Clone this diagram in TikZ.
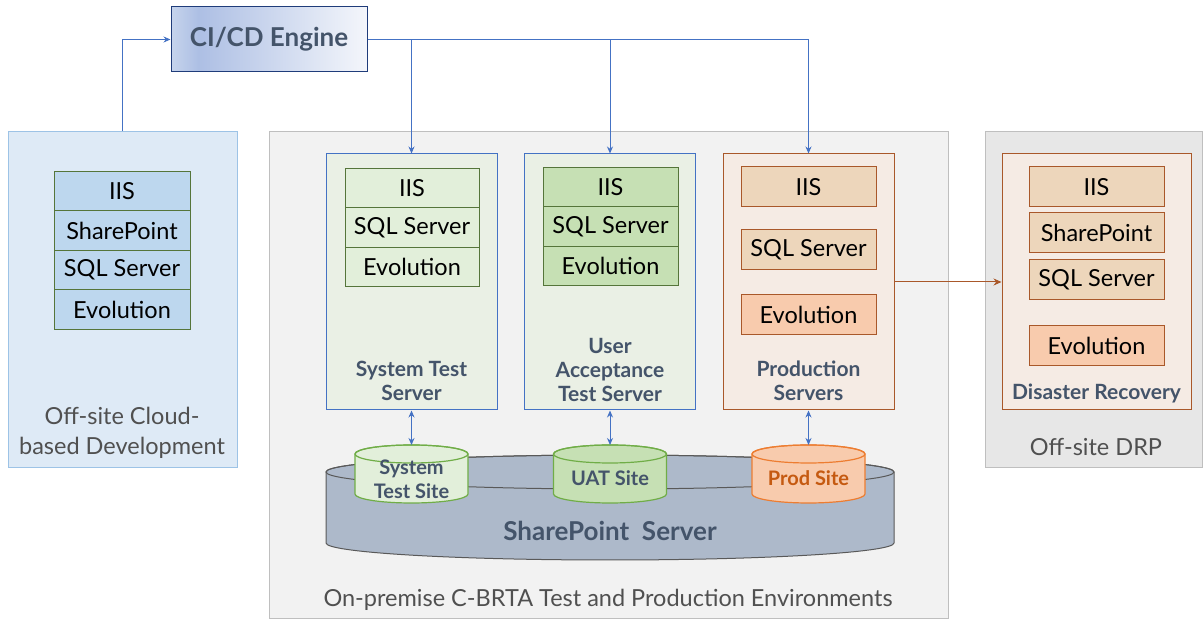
\documentclass[tikz,border=0pt]{standalone}
\usepackage{fontspec}
\setmainfont{Lato}
\usetikzlibrary{arrows.meta}

\definecolor{lineblue}{HTML}{4472C4}
\definecolor{labelblue}{HTML}{44546A}
\definecolor{labelgray}{HTML}{505050}
\definecolor{devfill}{HTML}{DEEAF6}
\definecolor{devline}{HTML}{9DC3E6}
\definecolor{devitem}{HTML}{BDD7EE}
\definecolor{stackline}{HTML}{55753A}
\definecolor{premfill}{HTML}{F2F2F2}
\definecolor{premline}{HTML}{BFBFBF}
\definecolor{drpfill}{HTML}{E7E7E7}
\definecolor{testfill}{HTML}{EAF0E5}
\definecolor{testitem}{HTML}{E2EFDA}
\definecolor{uatitem}{HTML}{C6E0B4}
\definecolor{prodfill}{HTML}{F5EBE4}
\definecolor{prodline}{HTML}{A9582A}
\definecolor{proditem}{HTML}{EDD6BB}
\definecolor{evoitem}{HTML}{F8CBAD}
\definecolor{spfill}{HTML}{ADB9CA}
\definecolor{spline}{HTML}{595959}
\definecolor{siteline}{HTML}{70AD47}
\definecolor{prodsiteline}{HTML}{ED7D31}
\definecolor{prodtext}{HTML}{C55A11}
\definecolor{cicdA}{HTML}{C6D4EC}
\definecolor{cicdB}{HTML}{ADBFE4}
\definecolor{cicdC}{HTML}{F4F6FB}
\definecolor{cicdline}{HTML}{1F3C7A}

\pgfdeclarehorizontalshading{cicdshade}{100bp}{color(0bp)=(cicdA); color(25bp)=(cicdA); color(32bp)=(cicdB); color(75bp)=(cicdC); color(100bp)=(cicdC)}

\begin{document}
\begin{tikzpicture}[x=1pt,y=1pt,
    panel/.style={line width=1pt, inner sep=0pt},
    server/.style={line width=1pt, inner sep=0pt, minimum width=171pt, minimum height=256pt},
    item/.style={draw=stackline, line width=1pt, inner sep=0pt, minimum width=136pt, minimum height=39.5pt, font=\fontsize{23.5}{26}\selectfont},
    peritem/.style={draw=prodline, line width=1pt, inner sep=0pt, minimum width=135pt, minimum height=40pt, font=\fontsize{23.5}{26}\selectfont},
    graylabel/.style={align=center, text=labelgray, font=\fontsize{23.5}{30}\selectfont},
    boldlabel/.style={align=center, text=labelblue, font=\bfseries\fontsize{21}{24}\selectfont},
    sitelabel/.style={align=center, text=labelblue, font=\bfseries\fontsize{20}{24}\selectfont},
    flow/.style={draw=lineblue, line width=1pt, -{Stealth[length=7pt,width=6pt]}},
    both/.style={draw=lineblue, line width=1pt, {Stealth[length=7pt,width=6pt]}-{Stealth[length=7pt,width=6pt]}}]

  \useasboundingbox (0,0) rectangle (1203,619);

  % outer areas
  \node[panel, fill=devfill, draw=devline, minimum width=229pt, minimum height=336pt] (dev) at (122.5,319) {};
  \node[panel, fill=premfill, draw=premline, minimum width=679pt, minimum height=486pt] (prem) at (608.5,244) {};
  \node[panel, fill=drpfill, draw=premline, minimum width=217pt, minimum height=336pt] (drp) at (1093.5,319) {};

  \node[graylabel] (devlabel) at (122,186) {Off-site Cloud-\\based Development};
  \node[graylabel] (premlabel) at (608,19) {On-premise C-BRTA Test and Production Environments};
  \node[graylabel] (drplabel) at (1096,172) {Off-site DRP};

  % CI/CD
  \node[panel, draw=cicdline, shading=cicdshade, minimum width=196pt, minimum height=65pt,
        text=labelblue, font=\bfseries\fontsize{26}{28}\selectfont] (cicd) at (269,579.5) {CI/CD Engine};

  % development stack
  \node[item, fill=devitem] (deviis) at (122,428) {IIS};
  \node[item, fill=devitem] (devsp) at (122,388.5) {SharePoint};
  \node[item, fill=devitem] (devsql) at (122,349) {SQL Server};
  \node[item, fill=devitem] (devevo) at (122,309.5) {Evolution};

  % servers
  \node[server, draw=lineblue, fill=testfill] (sts) at (411.5,337) {};
  \node[server, draw=lineblue, fill=testfill] (uat) at (610,337) {};
  \node[server, draw=prodline, fill=prodfill] (prod) at (808.5,337) {};
  \node[server, draw=prodline, fill=prodfill, minimum width=189pt] (drpin) at (1096.5,337) {};

  \node[item, fill=testitem, minimum width=134pt] (stsiis) at (412,431) {IIS};
  \node[item, fill=testitem, minimum width=134pt] (stssql) at (412,391.5) {SQL Server};
  \node[item, fill=testitem, minimum width=134pt] (stsevo) at (412,352) {Evolution};
  \node[boldlabel] (stslabel) at (411.5,238) {System Test\\Server};

  \node[item, fill=uatitem, minimum width=135pt] (uatiis) at (610.5,432) {IIS};
  \node[item, fill=uatitem, minimum width=135pt] (uatsql) at (610.5,392.5) {SQL Server};
  \node[item, fill=uatitem, minimum width=135pt] (uatevo) at (610.5,353) {Evolution};
  \node[boldlabel] (uatlabel) at (610,249.5) {User\\Acceptance\\Test Server};

  \node[peritem, fill=proditem] (prodiis) at (808.5,432) {IIS};
  \node[peritem, fill=proditem] (prodsql) at (808.5,369) {SQL Server};
  \node[peritem, fill=evoitem] (prodevo) at (808.5,304) {Evolution};
  \node[boldlabel] (prodlabel) at (808.5,238) {Production\\Servers};

  \node[peritem, fill=proditem] (drpiis) at (1096.5,432) {IIS};
  \node[peritem, fill=proditem] (drpsp) at (1096.5,386) {SharePoint};
  \node[peritem, fill=proditem] (drpsql) at (1096.5,339) {SQL Server};
  \node[peritem, fill=evoitem] (drpevo) at (1096.5,273) {Evolution};
  \node[boldlabel] (drplabelin) at (1096.5,226) {Disaster Recovery};

  % SharePoint server
  \draw[draw=spline, fill=spfill, line width=1pt] (326,147) -- (326,76)
    arc[start angle=180, end angle=360, x radius=284pt, y radius=17pt] -- (894,147)
    arc[start angle=0, end angle=180, x radius=284pt, y radius=17pt] -- cycle;
  \draw[draw=spline, line width=1pt] (610,147) ellipse[x radius=284pt, y radius=17pt];
  \node[boldlabel, font=\bfseries\fontsize{26}{28}\selectfont] (splabel) at (610,88) {SharePoint\ \ Server};

  % sites
  \foreach \cx/\fillc/\linec/\name in {411.5/testitem/siteline/stssite, 610/uatitem/siteline/uatsite, 808.5/evoitem/prodsiteline/prodsite} {
    \draw[draw=\linec, fill=\fillc, line width=1.2pt] (\cx-56.5,165) -- (\cx-56.5,125)
      arc[start angle=180, end angle=360, x radius=56.5pt, y radius=9pt] -- (\cx+56.5,165)
      arc[start angle=0, end angle=180, x radius=56.5pt, y radius=9pt] -- cycle;
    \draw[draw=\linec, line width=1.2pt] (\cx,165) ellipse[x radius=56.5pt, y radius=9pt];
    \coordinate (\name) at (\cx,174);
  }
  \node[sitelabel] (stssitelabel) at (411.5,140) {System\\Test Site};
  \node[sitelabel] (uatsitelabel) at (610,141) {UAT Site};
  \node[sitelabel, text=prodtext] (prodsitelabel) at (808.5,141) {Prod Site};

  % connectors
  \draw[flow] (dev.north) |- (cicd.west);
  \draw[flow] (cicd.east) -| (prod.north);
  \draw[flow] (cicd.east -| sts.north) -- (sts.north);
  \draw[flow] (cicd.east -| uat.north) -- (uat.north);
  \draw[both] (sts.south) -- (stssite);
  \draw[both] (uat.south) -- (uatsite);
  \draw[both] (prod.south) -- (prodsite);
  \draw[draw=prodline, line width=1pt, -{Stealth[length=8pt,width=7pt]}] (prod.east) -- (drpin.west);
\end{tikzpicture}
\end{document}
